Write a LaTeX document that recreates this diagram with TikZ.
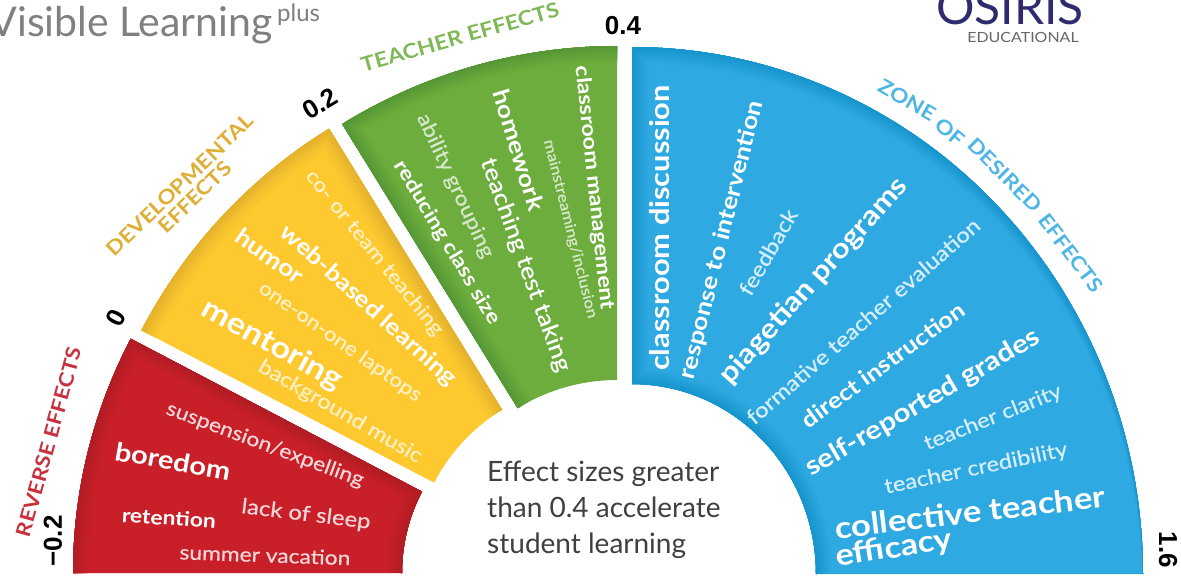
\documentclass[tikz,border=0pt]{standalone}
\usepackage{fontspec}
\setmainfont{Lato}[FakeStretch=1.14]
\newfontfamily\plainfont{Lato}
\newfontfamily\medfont{Lato}[FakeStretch=1.14,FakeBold=0.5]
\newfontfamily\numfont{Liberation Sans}
\definecolor{redb}{HTML}{C91F28}
\definecolor{redd}{HTML}{A91C24}
\definecolor{yelb}{HTML}{FDC92F}
\definecolor{yeld}{HTML}{DBA92C}
\definecolor{grnb}{HTML}{6CAD3D}
\definecolor{grnd}{HTML}{4E9033}
\definecolor{blub}{HTML}{2FA9E1}
\definecolor{blud}{HTML}{0E8DC6}
\definecolor{redl}{HTML}{C8323E}
\definecolor{yell}{HTML}{DFAE35}
\definecolor{grnl}{HTML}{7FB957}
\definecolor{blul}{HTML}{4DB6E5}
\definecolor{navy}{HTML}{2E2C6E}
\tikzset{
  txt/.style={inner sep=0pt,outer sep=0pt,text=white},
  bold/.style={txt,execute at begin node=\bfseries},
  med/.style={txt,execute at begin node=\medfont},
  softb/.style={med,text=white!80!blub},
  softr/.style={med,text=white!82!redb},
  softy/.style={med,text=white!72!yelb},
  softg/.style={med,text=white!72!grnb},
  head/.style={inner sep=0pt,execute at begin node=\bfseries},
  val/.style={inner sep=0pt,text=black,execute at begin node=\numfont\bfseries},
}
\newcommand{\wedgepath}[8]{plot[domain=#7:#8,samples=80]({#1+#3*cos(\x)},{#2-#4*sin(\x)}) -- plot[domain=#8:#7,samples=50]({#1+#5*cos(\x)},{#2-#6*sin(\x)})}
\newcommand{\lbl}[7]{\node[#6,rotate=#4,font=\fontsize{#5}{#5}\selectfont] (#1) at (#2,#3) {#7};}
\begin{document}
\begin{tikzpicture}[x=1pt,y=-1pt]
\clip (0,0) rectangle (1181,579);
\fill[white] (0,0) rectangle (1181,579);
% red
\fill[redb] \wedgepath{577}{573}{504}{504}{175}{175}{180}{152.3} -- cycle;
\begin{scope}
\clip \wedgepath{577}{573}{504}{504}{175}{175}{180}{152.3} -- cycle;
\foreach \w/\m in {32/8,28/16,24/24,20/32,16/42,12/52,8/62,4/72}
  \draw[redd!\m!redb,line width=\w pt] \wedgepath{577}{573}{504}{504}{175}{175}{180}{152.3};
\end{scope}
% yellow
\fill[yelb] \wedgepath{600}{569}{517}{517}{187}{187}{152.5}{121.6} -- cycle;
\begin{scope}
\clip \wedgepath{600}{569}{517}{517}{187}{187}{152.5}{121.6} -- cycle;
\foreach \w/\m in {32/8,28/16,24/24,20/32,16/42,12/52,8/62,4/72}
  \draw[yeld!\m!yelb,line width=\w pt] plot[domain=152.5:121.6,samples=80]({600+517*cos(\x)},{569-517*sin(\x)}) -- ({600+187*cos(121.6)},{569-187*sin(121.6)});
\end{scope}
% green
\fill[grnb] \wedgepath{617}{569}{523}{523}{189}{189}{121.7}{90} -- cycle;
\begin{scope}
\clip \wedgepath{617}{569}{523}{523}{189}{189}{121.7}{90} -- cycle;
\foreach \w/\m in {32/8,28/16,24/24,20/32,16/42,12/52,8/62,4/72}
  \draw[grnd!\m!grnb,line width=\w pt] plot[domain=90:121.7,samples=80]({617+523*cos(\x)},{569-523*sin(\x)}) -- ({617+189*cos(121.7)},{569-189*sin(121.7)});
\end{scope}
% blue
\fill[blub] \wedgepath{632}{574}{511}{527}{184}{190}{0}{90} -- cycle;
\begin{scope}
\clip \wedgepath{632}{574}{511}{527}{184}{190}{0}{90} -- cycle;
\foreach \w/\m in {32/8,28/16,24/24,20/32,16/42,12/52,8/62,4/72}{
  \fill[blud!\m!blub,even odd rule] (600,0) rectangle (1181,579)
     plot[domain=0:360,samples=120]({632+511*cos(\x)},{574+0.5*\w-527*sin(\x)}) -- cycle;
  \draw[blud!\m!blub,line width=\w pt] (632,47) -- plot[domain=90:0,samples=50]({632+184*cos(\x)},{574-190*sin(\x)});
}
\end{scope}
% title and logo
\node[anchor=base east,inner sep=0pt,text=black!50,font=\plainfont\fontsize{41}{41}\selectfont] (title) at (273,36) {Visible Learning};
\node[anchor=base west,inner sep=0pt,text=black!50,font=\plainfont\fontsize{24}{24}\selectfont] (plus) at (277,21) {plus};
\node[anchor=base,inner sep=0pt,text=navy,font=\plainfont\fontsize{48}{48}\selectfont] (osiris) at (1010,24) {OSIRIS};
\node[inner sep=0pt,text=black!60,font=\fontsize{14}{14}\selectfont] (edu) at (1023,37) {EDUCATIONAL};
% scale values
\lbl{v1}{53}{541}{90}{26}{val}{−0.2}
\lbl{v2}{116}{318}{62}{26}{val}{0}
\lbl{v3}{320}{104}{31}{26}{val}{0.2}
\lbl{v4}{623}{26}{0}{26}{val}{0.4}
\lbl{v5}{1168}{550}{-90}{26}{val}{1.6}
% zone headings
\lbl{h1}{49}{442}{74.5}{20}{head,text=redl}{REVERSE EFFECTS}
\lbl{h2a}{180}{185}{44}{20}{head,text=yell}{DEVELOPMENTAL}
\lbl{h2b}{195}{197}{44}{20}{head,text=yell}{EFFECTS}
\lbl{h3}{460}{37}{16}{20.4}{head,text=grnl}{TEACHER EFFECTS}
\lbl{h4a}{907}{100}{-30}{20}{head,text=blul}{ZONE}
\lbl{h4b}{950}{132}{-40}{20}{head,text=blul}{OF}
\lbl{h4c}{1005}{175}{-45}{20}{head,text=blul}{DESIRED}
\lbl{h4d}{1071}{253}{-53}{20}{head,text=blul}{EFFECTS}
% red items
\lbl{r1}{265}{445}{-20.4}{20}{softr}{suspension/expelling}
\lbl{r2}{173}{461}{-10}{25.5}{bold}{boredom}
\lbl{r3}{169}{518}{-4}{20}{bold}{retention}
\lbl{r4}{306}{515}{-7}{21}{softr}{lack of sleep}
\lbl{r5}{265}{555}{-2}{20}{softr}{summer vacation}
% yellow items
\lbl{y1}{374}{253}{-51}{20}{softy}{co- or team teaching}
\lbl{y2}{368}{306}{-42}{23}{bold}{web-based learning}
\lbl{y3}{270}{256}{-35}{23.5}{bold}{humor}
\lbl{y4}{340}{342}{-35}{19.7}{softy}{one-on-one laptops}
\lbl{y5}{272}{345}{-29}{30}{bold}{mentoring}
\lbl{y6}{340}{412}{-30}{20.5}{softy}{background music}
% green items
\lbl{g1}{594}{188}{-84}{20.5}{bold}{classroom management}
\lbl{g2}{570}{229}{-76}{15}{softg}{mainstreaming/inclusion}
\lbl{g3}{519}{150}{-73}{23}{bold}{homework}
\lbl{g4}{525}{265}{-70}{23}{med}{teaching test taking}
\lbl{g5}{455}{186}{-65}{20.3}{softg}{ability grouping}
\lbl{g6}{447}{243}{-59}{20.2}{bold}{reducing class size}
% blue items
\lbl{b1}{660}{228}{90}{27}{bold}{classroom discussion}
\lbl{b2}{722}{240}{76}{23}{bold}{response to intervention}
\lbl{b3}{768}{252}{60}{21}{softb}{feedback}
\lbl{b4}{814}{281}{48}{27.5}{bold}{piagetian programs}
\lbl{b5}{863}{321}{41}{21}{softb}{formative teacher evaluation}
\lbl{b6}{883}{365}{36}{22.5}{bold}{direct instruction}
\lbl{b7}{923}{403}{30.3}{26}{bold}{self-reported grades}
\lbl{b8}{993}{418}{21.7}{20.5}{softb}{teacher clarity}
\lbl{b9}{976}{469}{11.8}{20.8}{softb}{teacher credibility}
\lbl{b10}{970}{512}{6.8}{30.4}{bold}{collective teacher}
\lbl{b11}{894}{549}{9}{30}{bold}{efficacy}
% centre note
\node[anchor=north west,inner sep=0pt,align=left,text=black!75,font=\plainfont\fontsize{28}{36}\selectfont] (note) at (487,461) {Effect sizes greater\\than 0.4 accelerate\\student learning};
\end{tikzpicture}
\end{document}
